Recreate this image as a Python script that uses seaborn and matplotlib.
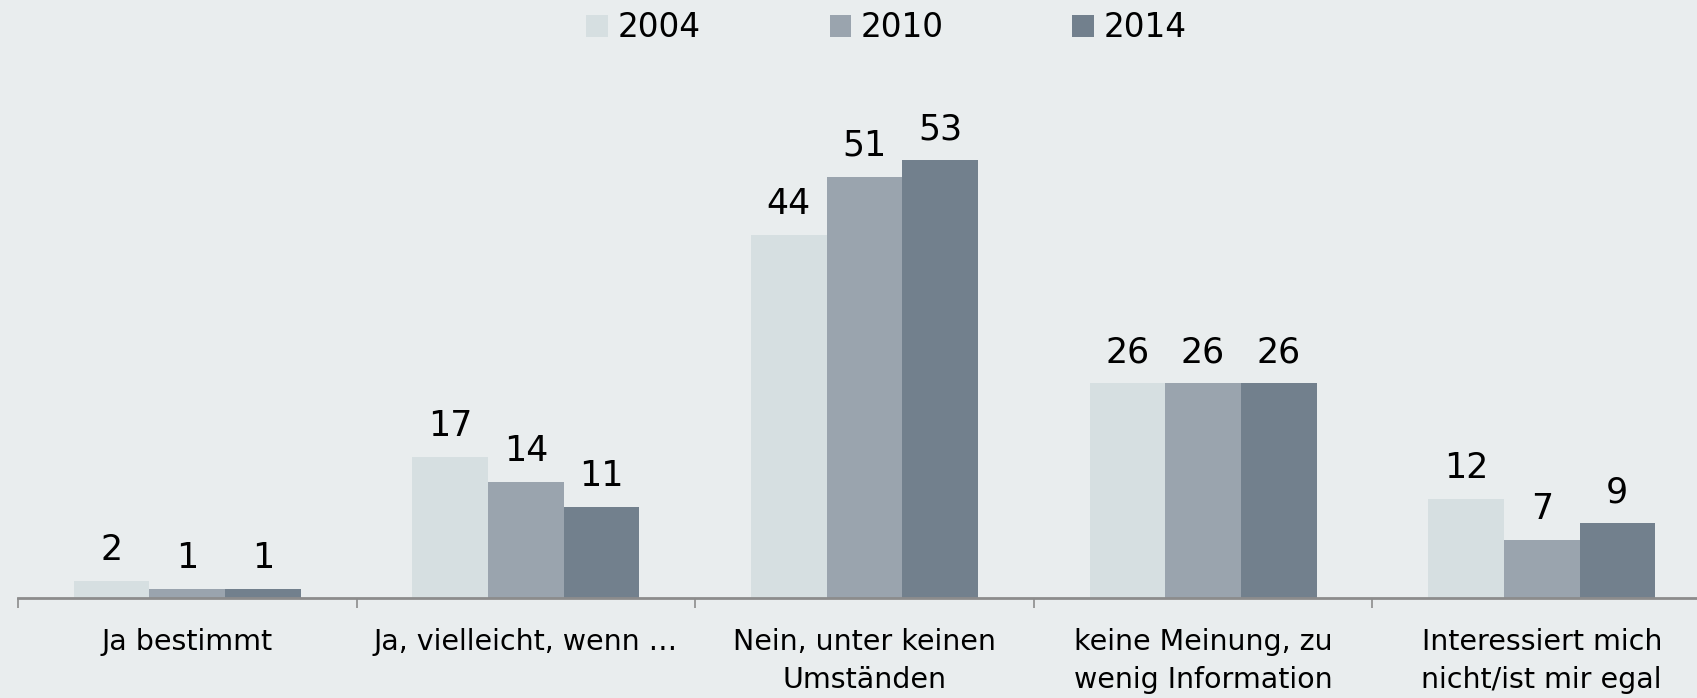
import matplotlib.pyplot as plt
import seaborn as sns
import pandas as pd

categories = ["Ja bestimmt", "Ja, vielleicht, wenn …", "Nein, unter keinen\nUmständen",
              "keine Meinung, zu\nwenig Information", "Interessiert mich\nnicht/ist mir egal"]
years = ["2004", "2010", "2014"]
v2004 = [2, 17, 44, 26, 12]
v2010 = [1, 14, 51, 26, 7]
v2014 = [1, 11, 53, 26, 9]
colors = ["#D6DFE1", "#9AA4AE", "#72808D"]

df = pd.DataFrame({
    "cat": categories * 3,
    "year": [y for y in years for _ in categories],
    "val": v2004 + v2010 + v2014,
})

bg = "#E9EDEE"
sns.set_style("white")
plt.rcParams["font.family"] = ["DejaVu Sans"]
plt.rcParams["text.color"] = "black"
plt.rcParams["xtick.color"] = "black"

fig = plt.figure(figsize=(16.97, 6.98), dpi=100, facecolor=bg)
ax = fig.add_axes([18/1697, 1-597.5/698, 1693/1697, 597.5/698])
ax.set_facecolor(bg)

sns.barplot(data=df, x="cat", y="val", hue="year", palette=colors, width=0.67,
            gap=0, ax=ax, saturation=1, edgecolor="none", legend=True)

for c in ax.containers:
    ax.bar_label(c, labels=[f"{v:g}" for v in c.datavalues], fontsize=25, padding=10,
                 color="black")

ax.set_xlim(-0.5, 4.5)
ax.set_ylim(0, 597.5/8.25)
ax.set_xlabel("")
ax.set_ylabel("")
ax.set_yticks([])
for s in ["top", "right", "left"]:
    ax.spines[s].set_visible(False)
ax.spines["bottom"].set_color("#8C8C8C")
ax.spines["bottom"].set_linewidth(2)

ax.set_xticks(range(len(categories)))
ax.set_xticklabels(categories, fontsize=20.5, linespacing=1.47, color="black")
ax.tick_params(axis="x", which="major", length=0, pad=22, bottom=True)
ax.set_xticks([i - 0.5 for i in range(len(categories) + 1)], minor=True)
ax.tick_params(axis="x", which="minor", length=7, width=1.2, color="#8C8C8C", bottom=True)

leg = ax.legend(loc="upper center", bbox_to_anchor=(0.5 + 0.013, 1.03), ncol=3,
                frameon=False, fontsize=23.5, handlelength=0.65, handleheight=0.65,
                handletextpad=0.3, columnspacing=3.95)

fig.savefig("out.png", dpi=100, facecolor=bg)
